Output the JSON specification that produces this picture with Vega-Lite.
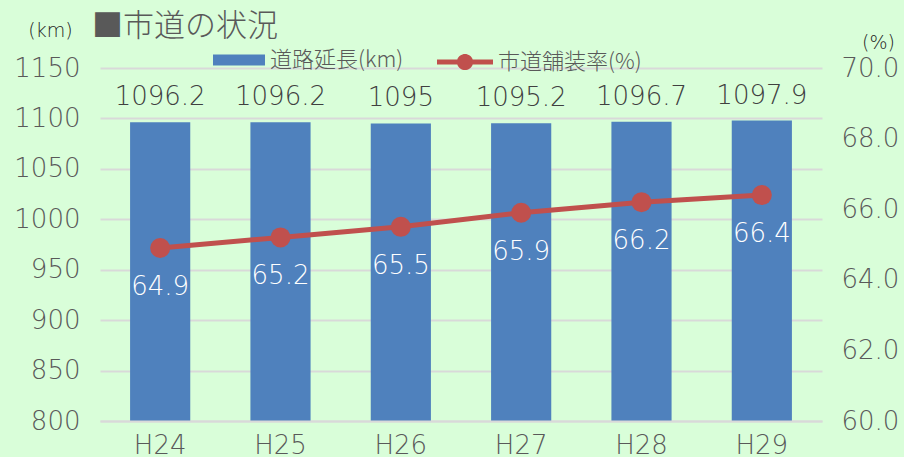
{
  "$schema": "https://vega.github.io/schema/vega-lite/v6.json",
  "width": 722,
  "height": 353,
  "autosize": {"type": "none"},
  "padding": {"left": 100, "top": 68, "right": 82, "bottom": 36},
  "background": "#D9FED9",
  "title": {
    "text": "■市道の状況",
    "anchor": "start",
    "frame": "group",
    "orient": "top",
    "dx": -8,
    "offset": 0,
    "dy": 53,
    "baseline": "bottom",
    "fontSize": 31,
    "fontWeight": 300,
    "font": "Noto Sans CJK JP",
    "color": "#595959"
  },
  "data": {
    "values": [
      {"year": "H24", "length": 1096.2, "rate": 64.9},
      {"year": "H25", "length": 1096.2, "rate": 65.2},
      {"year": "H26", "length": 1095, "rate": 65.5},
      {"year": "H27", "length": 1095.2, "rate": 65.9},
      {"year": "H28", "length": 1096.7, "rate": 66.2},
      {"year": "H29", "length": 1097.9, "rate": 66.4}
    ]
  },
  "encoding": {
    "x": {
      "field": "year",
      "type": "nominal",
      "sort": null,
      "scale": {"paddingInner": 0.5, "paddingOuter": 0.25},
      "axis": {
        "orient": "bottom",
        "title": null,
        "labelAngle": 0,
        "labelFontSize": 26,
        "labelFont": "DejaVu Sans",
        "labelFontWeight": 200,
        "labelColor": "#595959",
        "labelPadding": 11,
        "ticks": false,
        "domainColor": "#D9D9D9",
        "domainWidth": 2,
        "grid": false,
        "zindex": 1
      }
    }
  },
  "layer": [
    {
      "layer": [
        {
          "mark": {"type": "bar", "color": "#4F81BD", "clip": true},
          "encoding": {
            "y": {
              "field": "length",
              "type": "quantitative",
              "scale": {"domain": [800, 1150], "zero": false, "nice": false},
              "axis": {
                "orient": "left",
                "values": [800, 850, 900, 950, 1000, 1050, 1100, 1150],
                "format": "d",
                "title": "(km)",
                "titleAngle": 0,
                "titleX": -50,
                "titleY": -38,
                "titleAlign": "center",
                "titleBaseline": "middle",
                "titleFontSize": 19,
                "titleFontWeight": 300,
                "titleFont": "DejaVu Sans",
                "titleColor": "#222222",
                "labelFontSize": 26,
                "labelFont": "DejaVu Sans",
                "labelFontWeight": 200,
                "labelColor": "#595959",
                "labelPadding": 20,
                "ticks": false,
                "domain": false,
                "grid": true,
                "gridColor": "#D9D9D9",
                "gridWidth": 2
              }
            },
            "fill": {
              "datum": "道路延長(km)",
              "scale": {"domain": ["道路延長(km)"], "range": ["#4F81BD"]},
              "legend": {
                "title": null,
                "orient": "none",
                "legendX": 113,
                "legendY": -34,
                "symbolType": "M-1,-0.21H1V0.21H-1Z",
                "symbolSize": 2704,
                "symbolStrokeWidth": 0,
                "labelFontSize": 22,
                "labelFont": "Noto Sans CJK JP",
                "labelFontWeight": 300,
                "labelColor": "#595959",
                "labelOffset": 5
              }
            }
          }
        },
        {
          "mark": {"type": "text", "dy": -25, "fontSize": 26, "font": "DejaVu Sans", "fontWeight": 200, "color": "#404040"},
          "encoding": {
            "y": {"field": "length", "type": "quantitative", "scale": {"domain": [800, 1150], "zero": false, "nice": false}},
            "text": {"field": "length", "type": "quantitative"}
          }
        }
      ]
    },
    {
      "layer": [
        {
          "mark": {"type": "line", "strokeWidth": 5},
          "encoding": {
            "y": {
              "field": "rate",
              "type": "quantitative",
              "scale": {"domain": [60, 70], "zero": false, "nice": false},
              "axis": {
                "orient": "right",
                "values": [60, 62, 64, 66, 68, 70],
                "format": ".1f",
                "title": "(%)",
                "titleAngle": 0,
                "titleX": 56,
                "titleY": -26,
                "titleAlign": "center",
                "titleBaseline": "middle",
                "titleFontSize": 19,
                "titleFontWeight": 300,
                "titleFont": "DejaVu Sans",
                "titleColor": "#222222",
                "labelFontSize": 26,
                "labelFont": "DejaVu Sans",
                "labelFontWeight": 200,
                "labelColor": "#595959",
                "labelPadding": 19,
                "ticks": false,
                "domain": false,
                "grid": false
              }
            },
            "stroke": {
              "datum": "市道舗装率(%)",
              "scale": {"domain": ["市道舗装率(%)"], "range": ["#C0504D"]},
              "legend": {
                "title": null,
                "orient": "none",
                "legendX": 337,
                "legendY": -34,
                "symbolType": "M-1,-0.09H-0.275A0.29,0.29 0 0 1 0.275,-0.09H1V0.09H0.275A0.29,0.29 0 0 1 -0.275,0.09H-1Z",
                "symbolSize": 3136,
                "labelFontSize": 22,
                "labelFont": "Noto Sans CJK JP",
                "labelFontWeight": 300,
                "labelColor": "#595959",
                "labelOffset": 5,
                "encode": {"symbols": {"update": {"fill": {"value": "#C0504D"}, "strokeWidth": {"value": 0}}}}
              }
            }
          }
        },
        {
          "mark": {"type": "circle", "size": 400, "color": "#C0504D", "opacity": 1},
          "encoding": {
            "y": {"field": "rate", "type": "quantitative", "scale": {"domain": [60, 70], "zero": false, "nice": false}}
          }
        },
        {
          "mark": {"type": "text", "dy": 39, "fontSize": 26, "font": "DejaVu Sans", "fontWeight": 200, "color": "#FFFFFF"},
          "encoding": {
            "y": {"field": "rate", "type": "quantitative", "scale": {"domain": [60, 70], "zero": false, "nice": false}},
            "text": {"field": "rate", "type": "quantitative", "format": ".1f"}
          }
        }
      ]
    }
  ],
  "resolve": {"scale": {"y": "independent", "fill": "independent", "stroke": "independent"}},
  "config": {"view": {"stroke": null}}
}
